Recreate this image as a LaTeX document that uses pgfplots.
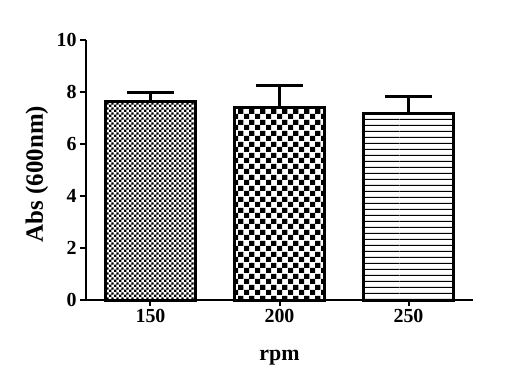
\documentclass[border=0pt]{standalone}
\usepackage{fontspec}
\setmainfont{Liberation Serif}
\usepackage{pgfplots}
\pgfplotsset{compat=1.18}
\usetikzlibrary{patterns}
\pgfdeclarepatternformonly{finechk}{\pgfpointorigin}{\pgfpoint{5.2bp}{5.2bp}}{\pgfpoint{5.2bp}{5.2bp}}{%
  \pgfpathrectangle{\pgfpointorigin}{\pgfpoint{2.6bp}{2.6bp}}%
  \pgfpathrectangle{\pgfpoint{2.6bp}{2.6bp}}{\pgfpoint{2.6bp}{2.6bp}}%
  \pgfusepath{fill}}
\pgfdeclarepatternformonly{coarsechk}{\pgfpointorigin}{\pgfpoint{10.6bp}{10.6bp}}{\pgfpoint{10.6bp}{10.6bp}}{%
  \pgfpathrectangle{\pgfpointorigin}{\pgfpoint{5.3bp}{5.3bp}}%
  \pgfpathrectangle{\pgfpoint{5.3bp}{5.3bp}}{\pgfpoint{5.3bp}{5.3bp}}%
  \pgfusepath{fill}}
\pgfdeclarepatternformonly{hlines}{\pgfpoint{0bp}{0bp}}{\pgfpoint{200bp}{5.5bp}}{\pgfpoint{200bp}{5.5bp}}{%
  \pgfpathrectangle{\pgfpoint{0bp}{2.2bp}}{\pgfpoint{200bp}{1.1bp}}%
  \pgfusepath{fill}}
\begin{document}
\begin{tikzpicture}
\begin{axis}[
  scale only axis, width=387bp, height=260bp,
  xmin=-0.5, xmax=2.5, ymin=0, ymax=10,
  axis x line=bottom, axis y line=left,
  axis line style={-, line width=2bp, black},
  xtick={0,1,2}, xticklabels={150,200,250},
  ytick={0,2,4,6,8,10},
  tick style={line width=2bp, black},
  major tick length=6bp, tick align=outside,
  xtick style={line width=2bp, black},
  ticklabel style={font=\fontsize{20}{20}\selectfont\bfseries},
  /pgf/number format/assume math mode=true,
  xlabel={rpm}, ylabel={Abs (600nm)},
  xlabel style={font=\fontsize{22}{22}\selectfont\bfseries, at={(axis description cs:0.5,0)}, anchor=center, yshift=-58bp},
  ylabel style={font=\fontsize{25}{25}\selectfont\bfseries, at={(axis description cs:-0.1266,0.485)}, anchor=center},
  ybar, bar width=90bp, bar shift=0bp,
  clip=false,
  error bars/y dir=plus, error bars/y explicit,
  error bars/error bar style={line width=3bp, black},
  error bars/error mark options={rotate=90, line width=3bp, mark size=23.5bp, black},
]
\addplot[draw=black, line width=3bp, pattern=finechk, pattern color=black]
  coordinates {(0,7.63) +- (0,0.35)};
\addplot[draw=black, line width=3bp, pattern=coarsechk, pattern color=black]
  coordinates {(1,7.40) +- (0,0.85)};
\addplot[draw=black, line width=3bp, pattern=hlines, pattern color=black]
  coordinates {(2,7.19) +- (0,0.63)};
\path (rel axis cs:0,0) ++(-86bp,-90bp) rectangle ++(532bp,390bp);
\end{axis}
\end{tikzpicture}
\end{document}
